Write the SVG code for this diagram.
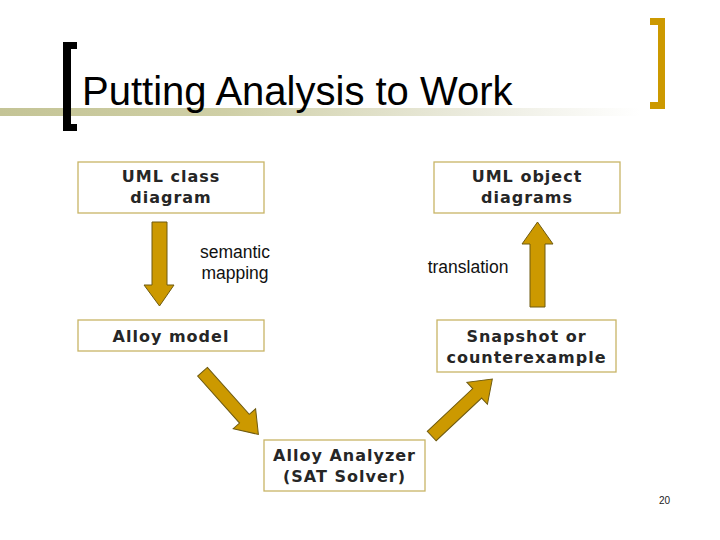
<svg xmlns="http://www.w3.org/2000/svg" width="720" height="540" viewBox="0 0 720 540">
<defs>
<linearGradient id="band" x1="0" y1="0" x2="1" y2="0">
<stop offset="0" stop-color="#c4c496"/>
<stop offset="0.35" stop-color="#cfcfa6"/>
<stop offset="0.75" stop-color="#ecece0"/>
<stop offset="1" stop-color="#ffffff"/>
</linearGradient>
<polygon id="darr" points="0,-6.5 63,-6.5 63,-15 84,0 63,15 63,6.5 0,6.5"/>
</defs>
<style>
.box{fill:#ffffff;stroke:#c8b466;stroke-width:1.3}
.bt{font-family:"DejaVu Sans",Verdana,sans-serif;font-weight:bold;font-size:16px;letter-spacing:1px;fill:#262626;text-anchor:middle}
.lbl{font-family:"Liberation Sans",Arial,sans-serif;font-size:17.5px;fill:#111111;text-anchor:middle}
.arr{fill:#cc9900;stroke:#6e5a10;stroke-width:1}
</style>
<rect x="0" y="108" width="640" height="8" fill="url(#band)"/>
<path d="M63,42 H77 V49 H71 V124 H77 V131 H63 Z" fill="#000000"/>
<path d="M650,18 H665 V109 H650 V102 H658 V25 H650 Z" fill="#cc9900"/>
<text x="82" y="105" font-family="'Liberation Sans',Arial,sans-serif" font-size="40" fill="#000000">Putting Analysis to Work</text>
<g id="n-uml-class"><rect class="box" x="78" y="162" width="186" height="51"/><text class="bt" x="171" y="182">UML class</text><text class="bt" x="171" y="203">diagram</text></g>
<g id="n-uml-object"><rect class="box" x="434" y="162" width="186" height="51"/><text class="bt" x="527" y="182">UML object</text><text class="bt" x="527" y="203">diagrams</text></g>
<g id="n-alloy-model"><rect class="box" x="78" y="320" width="186" height="31"/><text class="bt" x="171" y="341.5">Alloy model</text></g>
<g id="n-snapshot"><rect class="box" x="437" y="320" width="179" height="52"/><text class="bt" x="526.5" y="341.5">Snapshot or</text><text class="bt" x="526.5" y="363">counterexample</text></g>
<g id="n-analyzer"><rect class="box" x="264" y="440" width="161" height="51"/><text class="bt" x="344.5" y="460.5">Alloy Analyzer</text><text class="bt" x="344.5" y="481.5">(SAT Solver)</text></g>
<g id="connectors">
<polygon class="arr" points="152,222 167,222 167,285 174,285 159.5,306 144,285 152,285"/>
<polygon class="arr" points="530,307 545,307 545,244 553,244 537.5,222 522,244 530,244"/>
<use href="#darr" class="arr" transform="translate(202.5,371.7) rotate(48.3)"/>
<use href="#darr" class="arr" transform="translate(431.7,436) rotate(-43.2) scale(0.99,1)"/>
<text class="lbl" x="235" y="258">semantic</text>
<text class="lbl" x="235" y="279">mapping</text>
<text class="lbl" x="468" y="273">translation</text>
</g>
<text x="664.5" y="504" font-family="'Liberation Sans',Arial,sans-serif" font-size="10" fill="#222222" text-anchor="middle">20</text>
</svg>
